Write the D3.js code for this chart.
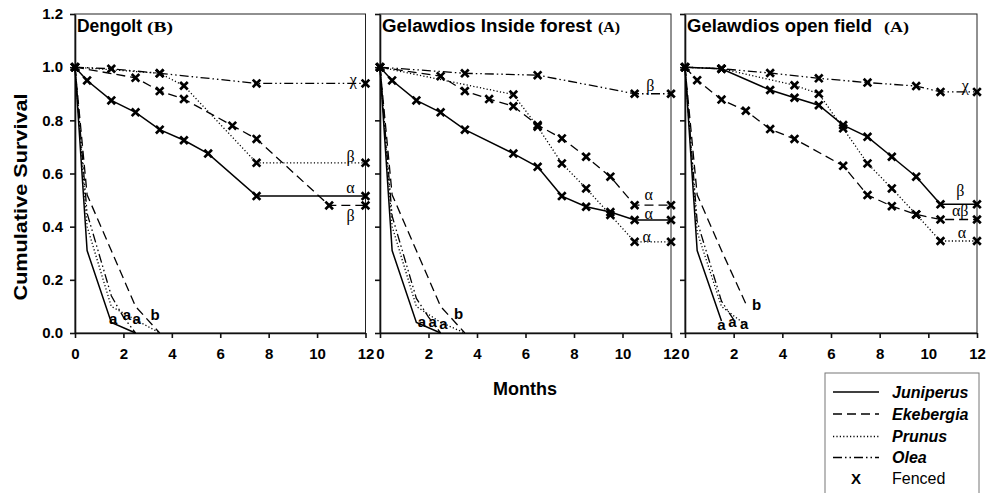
<!DOCTYPE html>
<html>
<head>
<meta charset="utf-8">
<script src="https://cdn.jsdelivr.net/npm/d3@7.9.0/dist/d3.min.js"></script>
<style>
  body { margin: 0; background: #fff; }
  svg { display: block; font-family: Arial, "Liberation Sans", sans-serif; }
</style>
</head>
<body>
<svg id="chart" width="986" height="493"></svg>
<script>
// ---- data (months, cumulative survival) ----
const panelNames = ['Dengolt', 'Gelawdios Inside forest', 'Gelawdios open field'];
const panelGroups = ['(B)', '(A)', '(A)'];
const species = ['Juniperus', 'Ekebergia', 'Prunus', 'Olea'];
const yTicks = [0, 0.2, 0.4, 0.6, 0.8, 1.0, 1.2];
const xTicks = [0, 2, 4, 6, 8, 10, 12];

const dengoltFenced = {
  Juniperus: [[0,1],[0.5,0.95],[1.5,0.875],[2.5,0.83],[3.5,0.765],[4.5,0.725],[5.5,0.675],[7.5,0.515],[12,0.515]],
  Ekebergia: [[0,1],[2.5,0.96],[3.5,0.91],[4.5,0.88],[6.5,0.78],[7.5,0.73],[10.5,0.48],[12,0.48]],
  Prunus:    [[0,1],[3.5,0.977],[4.5,0.93],[7.5,0.64],[12,0.64]],
  Olea:      [[0,1],[1.5,0.994],[3.5,0.977],[7.5,0.939],[12,0.939]]
};
const dengoltOpen = {
  Juniperus: [[0,1],[0.5,0.31],[1.5,0.04],[2.5,0]],
  Ekebergia: [[0,1],[0.5,0.52],[1.5,0.31],[2.5,0.1],[3.5,0]],
  Prunus:    [[0,1],[0.5,0.4],[1.5,0.1],[2.5,0.05],[3.5,0]],
  Olea:      [[0,1],[0.5,0.45],[1.5,0.14],[2,0.06],[2.5,0]]
};
const forestFenced = {
  Juniperus: [[0,1],[0.5,0.95],[1.5,0.875],[2.5,0.83],[3.5,0.765],[5.5,0.675],[6.5,0.625],[7.5,0.515],[8.5,0.475],[9.5,0.455],[10.5,0.425],[12,0.425]],
  Ekebergia: [[0,1],[2.5,0.966],[3.5,0.91],[4.5,0.88],[5.5,0.853],[6.5,0.782],[7.5,0.732],[8.5,0.663],[9.5,0.588],[10.5,0.481],[12,0.481]],
  Prunus:    [[0,1],[5.5,0.897],[6.5,0.776],[7.5,0.638],[8.5,0.544],[9.5,0.444],[10.5,0.343],[12,0.343]],
  Olea:      [[0,1],[3.5,0.977],[6.5,0.97],[10.5,0.9],[12,0.9]]
};
const forestOpen = {
  Juniperus: [[0,1],[0.5,0.31],[1.5,0.04],[2.5,0]],
  Ekebergia: [[0,1],[0.5,0.52],[1.5,0.31],[2.5,0.1],[3.5,0]],
  Prunus:    [[0,1],[0.5,0.4],[1.5,0.1],[2.5,0.04],[3.5,0]],
  Olea:      [[0,1],[0.5,0.44],[1.5,0.13],[2,0.06],[2.5,0]]
};
const fieldFenced = {
  Juniperus: [[0,1],[1.5,0.994],[3.5,0.914],[4.5,0.885],[5.5,0.857],[6.5,0.782],[7.5,0.738],[8.5,0.663],[9.5,0.588],[10.5,0.484],[12,0.484]],
  Ekebergia: [[0,1],[0.5,0.951],[1.5,0.878],[2.5,0.836],[3.5,0.767],[4.5,0.73],[6.5,0.629],[7.5,0.519],[8.5,0.477],[9.5,0.446],[10.5,0.427],[12,0.427]],
  Prunus:    [[0,1],[1.5,0.994],[4.5,0.932],[5.5,0.9],[6.5,0.77],[7.5,0.638],[8.5,0.544],[9.5,0.446],[10.5,0.346],[12,0.346]],
  Olea:      [[0,1],[1.5,0.994],[3.5,0.978],[5.5,0.958],[7.5,0.942],[9.5,0.929],[10.5,0.907],[12,0.907]]
};
const fieldOpen = {
  Juniperus: [[0,1],[0.5,0.31],[1.5,0.045]],
  Ekebergia: [[0,1],[0.5,0.52],[1.5,0.31],[2.5,0.11]],
  Prunus:    [[0,1],[0.5,0.38],[1.5,0.1],[2.5,0.03]],
  Olea:      [[0,1],[0.5,0.42],[1.5,0.12],[2,0.05]]
};

// significance letters [text, month, survival]
const dengoltLetters = [['a',1.58,0.055],['a',2.14,0.068],['a',2.55,0.052],['b',3.31,0.068]];
const forestLetters  = [['a',1.73,0.042],['a',2.17,0.042],['a',2.62,0.034],['b',3.24,0.074]];
const fieldLetters   = [['a',1.5,0.03],['a',1.95,0.042],['a',2.43,0.033],['b',2.94,0.105]];
const dengoltGreek = [['χ',11.5,0.951],['β',11.38,0.662],['α',11.38,0.545],['β',11.38,0.44]];
const forestGreek  = [['β',11.15,0.93],['α',11.08,0.518],['α',11.08,0.446],['α',11.0,0.36]];
const fieldGreek   = [['χ',11.52,0.928],['β',11.31,0.532],['αβ',11.31,0.458],['α',11.38,0.374]];

const fencedSets = [dengoltFenced, forestFenced, fieldFenced];
const openSets = [dengoltOpen, forestOpen, fieldOpen];
const letterSets = [dengoltLetters, forestLetters, fieldLetters];
const greekSets = [dengoltGreek, forestGreek, fieldGreek];

// ---- layout ----
const panelX = [[75, 365.5], [380, 671], [685, 977]];
const titleLen = [65, 210, 185];
const groupX = [147, 598, 884];
const groupLen = [26, 22, 25];
const plotTop = 14, plotBottom = 333;

const dash = {
  Juniperus: null,
  Ekebergia: '9,5',
  Prunus: '1.2,2.2',
  Olea: '9,3,1.5,3,1.5,3'
};

const svg = d3.select('#chart');

const yScale = d3.scaleLinear().domain([0, 1.2]).range([plotBottom, plotTop]);

panelNames.forEach((name, i) => {
  const xScale = d3.scaleLinear().domain([0, 12]).range(panelX[i]);
  const g = svg.append('g');

  g.append('rect')
    .attr('x', panelX[i][0]).attr('y', plotTop)
    .attr('width', panelX[i][1] - panelX[i][0]).attr('height', plotBottom - plotTop)
    .attr('fill', 'none').attr('stroke', '#222').attr('stroke-width', 1);

  const yAxis = d3.axisLeft(yScale).tickValues(yTicks).tickSize(5).tickSizeOuter(0)
    .tickFormat(i === 0 ? d3.format('.1f') : () => '');
  const ya = g.append('g').attr('transform', `translate(${panelX[i][0]},0)`).call(yAxis);
  ya.selectAll('text').attr('font-size', 15).attr('font-weight', 'bold').attr('fill', '#000')
    .attr('x', -12).attr('font-family', 'Arial, "Liberation Sans", sans-serif');

  const xAxis = d3.axisBottom(xScale).tickValues(xTicks).tickSize(5).tickSizeOuter(0);
  const xa = g.append('g').attr('transform', `translate(0,${plotBottom})`).call(xAxis);
  xa.selectAll('text').attr('font-size', 15).attr('font-weight', 'bold').attr('fill', '#000')
    .attr('y', 15).attr('font-family', 'Arial, "Liberation Sans", sans-serif');

  [ya, xa].forEach(a => {
    a.select('.domain').attr('stroke', '#111').attr('stroke-width', 1.6);
    a.selectAll('.tick line').attr('stroke', '#111').attr('stroke-width', 1.6);
  });

  const line = d3.line().x(d => xScale(d[0])).y(d => yScale(d[1]));

  species.forEach(sp => {
    [openSets[i][sp], fencedSets[i][sp]].forEach(pts => {
      g.append('path')
        .attr('d', line(pts))
        .attr('fill', 'none')
        .attr('stroke', '#000')
        .attr('stroke-width', sp === 'Juniperus' ? 1.5 : 1.3)
        .attr('stroke-dasharray', dash[sp]);
    });
    // fenced markers
    g.selectAll(null)
      .data(fencedSets[i][sp])
      .join('path')
      .attr('d', d => {
        const x = xScale(d[0]), y = yScale(d[1]), s = 3.8;
        return `M${x - s},${y - s}L${x + s},${y + s}M${x - s},${y + s}L${x + s},${y - s}`;
      })
      .attr('stroke', '#000')
      .attr('stroke-width', 2.7);
  });

  g.selectAll(null)
    .data(letterSets[i])
    .join('text')
    .attr('x', d => xScale(d[1]))
    .attr('y', d => yScale(d[2]))
    .attr('dy', '0.35em')
    .attr('text-anchor', 'middle')
    .attr('font-size', 15)
    .attr('font-weight', 'bold')
    .attr('fill', '#000')
    .text(d => d[0]);

  g.selectAll(null)
    .data(greekSets[i])
    .join('text')
    .attr('x', d => xScale(d[1]))
    .attr('y', d => yScale(d[2]))
    .attr('dy', '0.3em')
    .attr('text-anchor', 'middle')
    .attr('font-family', '"Liberation Serif", "Times New Roman", serif')
    .attr('font-size', 16)
    .attr('fill', '#000')
    .text(d => d[0]);

  g.append('text')
    .attr('x', panelX[i][0] + 2).attr('y', 32)
    .attr('font-size', 18).attr('font-weight', 'bold').attr('fill', '#000')
    .attr('textLength', titleLen[i]).attr('lengthAdjust', 'spacingAndGlyphs')
    .text(name);
  g.append('text')
    .attr('x', groupX[i]).attr('y', 32)
    .attr('font-family', '"Liberation Serif", "Times New Roman", serif')
    .attr('font-size', 15).attr('font-weight', 'bold').attr('fill', '#000')
    .attr('textLength', groupLen[i]).attr('lengthAdjust', 'spacingAndGlyphs')
    .text(panelGroups[i]);
});

// axis titles
svg.append('text')
  .attr('transform', 'translate(27,197) rotate(-90)')
  .attr('text-anchor', 'middle')
  .attr('font-size', 19).attr('font-weight', 'bold').attr('fill', '#000')
  .attr('textLength', 207).attr('lengthAdjust', 'spacingAndGlyphs')
  .text('Cumulative Survival');

svg.append('text')
  .attr('x', 525).attr('y', 395)
  .attr('text-anchor', 'middle')
  .attr('font-size', 19).attr('font-weight', 'bold').attr('fill', '#000')
  .attr('textLength', 64).attr('lengthAdjust', 'spacingAndGlyphs')
  .text('Months');

// legend
const legend = svg.append('g');
legend.append('rect')
  .attr('x', 825).attr('y', 373).attr('width', 154).attr('height', 140)
  .attr('fill', '#fff').attr('stroke', '#777').attr('stroke-width', 1);
const legendY = [392, 414, 436.5, 457.5];
species.forEach((sp, k) => {
  legend.append('line')
    .attr('x1', 833).attr('x2', 879)
    .attr('y1', legendY[k]).attr('y2', legendY[k])
    .attr('stroke', '#000')
    .attr('stroke-width', sp === 'Juniperus' ? 1.5 : 1.3)
    .attr('stroke-dasharray', dash[sp]);
  legend.append('text')
    .attr('x', 892).attr('y', legendY[k] + 5.5)
    .attr('font-size', 16).attr('font-weight', 'bold').attr('font-style', 'italic')
    .attr('fill', '#000')
    .text(sp);
});
legend.append('text')
  .attr('x', 856).attr('y', 483.5).attr('text-anchor', 'middle')
  .attr('font-size', 15).attr('font-weight', 'bold').attr('fill', '#000')
  .text('X');
legend.append('text')
  .attr('x', 892).attr('y', 483.5)
  .attr('font-size', 16).attr('fill', '#000')
  .text('Fenced');
</script>
</body>
</html>
